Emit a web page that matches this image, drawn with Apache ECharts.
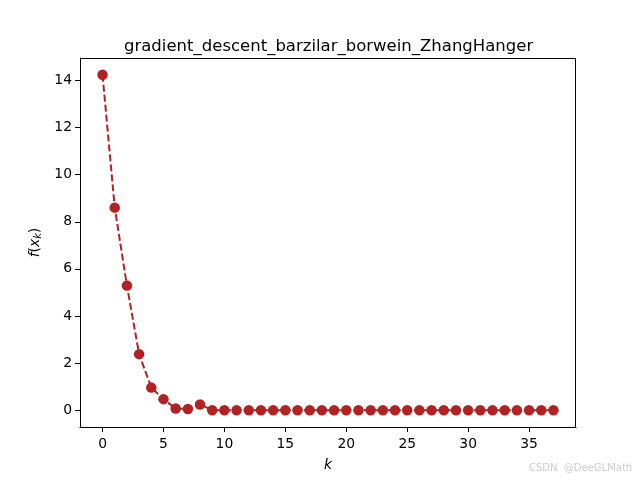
<!DOCTYPE html>
<html><head><meta charset="utf-8">
<script src="https://cdn.jsdelivr.net/npm/echarts@6/dist/echarts.min.js"></script>
<style>html,body{margin:0;padding:0;background:#fff}#c{width:640px;height:480px}</style>
</head><body><div id="c"></div>
<script>
const iterations = [0,1,2,3,4,5,6,7,8,9,10,11,12,13,14,15,16,17,18,19,20,21,22,23,24,25,26,27,28,29,30,31,32,33,34,35,36,37];
const fValues = [14.24,8.60,5.29,2.38,0.96,0.47,0.07,0.05,0.24,0,0,0,0,0,0,0,0,0,0,0,0,0,0,0,0,0,0,0,0,0,0,0,0,0,0,0,0,0];
const xTicks = [0,5,10,15,20,25,30,35];
const yTicks = [0,2,4,6,8,10,12,14];
const titleText = 'gradient_descent_barzilar_borwein_ZhangHanger';

const font = 'DejaVu Sans';
const chart = echarts.init(document.getElementById('c'));
chart.setOption({
  animation: false,
  backgroundColor: '#fff',
  title: { text: titleText, left: 119, top: 33,
    textStyle: { fontFamily: font, fontSize: 16.5, fontWeight: 'normal', color: '#000' } },
  grid: { left: 80, top: 58, width: 496, height: 369 },
  xAxis: {
    type: 'value', min: -1.85, max: 38.85,
    name: '{i|k}', nameLocation: 'middle', nameGap: 31,
    nameTextStyle: { rich: { i: { fontFamily: font, fontStyle: 'italic', fontSize: 13.9, color: '#000' } } },
    axisLine: { show: true, onZero: false, lineStyle: { color: '#000', width: 1 } },
    axisTick: { show: true, inside: false, length: 5, customValues: xTicks, lineStyle: { color: '#000' } },
    axisLabel: { customValues: xTicks, fontFamily: font, fontSize: 13.9, color: '#000', margin: 10 },
    splitLine: { show: false }
  },
  yAxis: {
    type: 'value', min: -0.712, max: 14.952,
    name: '{i|f}{n|(}{i|x}{s|k}{n|)}', nameLocation: 'middle', nameGap: 36, nameRotate: 90,
    nameTextStyle: { rich: {
      i: { fontFamily: font, fontStyle: 'italic', fontSize: 13.9, color: '#000' },
      n: { fontFamily: font, fontSize: 13.9, color: '#000' },
      s: { fontFamily: font, fontStyle: 'italic', fontSize: 9.7, color: '#000', padding: [6,0,0,0] }
    } },
    axisLine: { show: true, onZero: false, lineStyle: { color: '#000', width: 1 } },
    axisTick: { show: true, inside: false, length: 5, customValues: yTicks, lineStyle: { color: '#000' } },
    axisLabel: { customValues: yTicks, fontFamily: font, fontSize: 13.9, color: '#000', margin: 8 },
    splitLine: { show: false }
  },
  graphic: [
    { type: 'line', shape: { x1: 80, y1: 58.5, x2: 576, y2: 58.5 }, style: { stroke: '#000', lineWidth: 1 } },
    { type: 'line', shape: { x1: 575.5, y1: 58, x2: 575.5, y2: 427 }, style: { stroke: '#000', lineWidth: 1 } },
    { type: 'text', left: 529, top: 463, style: { text: 'CSDN  @DeeGLMath', fontFamily: font, fontSize: 10, fill: '#cccccc' } }
  ],
  series: [{
    type: 'line',
    data: iterations.map((k, i) => [k, fValues[i]]),
    symbol: 'circle', symbolSize: 10.5,
    itemStyle: { color: '#b22222' },
    lineStyle: { color: '#b22222', width: 2, type: [7, 3] },
    clip: false
  }]
});
</script></body></html>
